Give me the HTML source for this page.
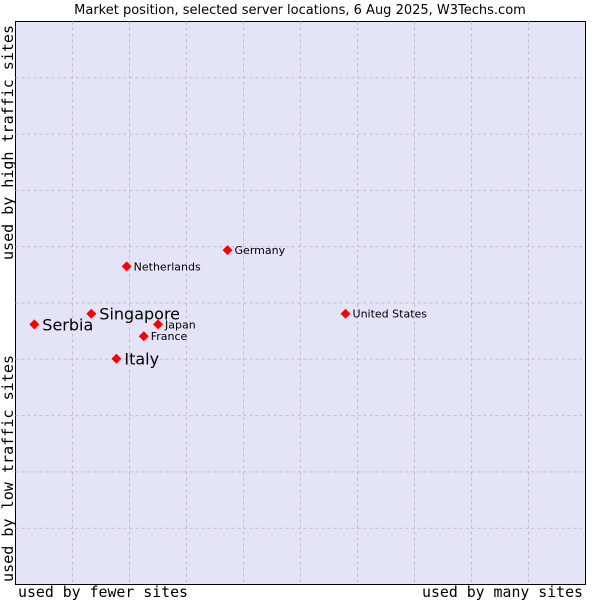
<!DOCTYPE html>
<html><head><meta charset="utf-8"><style>
body{margin:0;background:#fff;width:600px;height:600px;overflow:hidden}
svg text{font-family:"DejaVu Sans","Liberation Sans",sans-serif}
.mono{font-family:"DejaVu Sans Mono","Liberation Mono",monospace}
</style></head><body>
<svg id="chart" width="600" height="600" xmlns="http://www.w3.org/2000/svg">
<text x="300" y="14" text-anchor="middle" font-size="13" fill="#000">Market position, selected server locations, 6 Aug 2025, W3Techs.com</text>
<rect x="15.5" y="21.5" width="570" height="563" fill="#e4e4f8" stroke="#000" stroke-width="1"/>
<g id="grid"></g>
<g id="points"></g>
<text class="mono" transform="translate(13,260) rotate(-90)" font-size="15" fill="#000" textLength="235" lengthAdjust="spacingAndGlyphs">used by high traffic sites</text>
<text class="mono" transform="translate(13,582) rotate(-90)" font-size="15" fill="#000" textLength="227" lengthAdjust="spacingAndGlyphs">used by low traffic sites</text>
<text class="mono" x="18" y="597" font-size="15" fill="#000" textLength="170" lengthAdjust="spacingAndGlyphs">used by fewer sites</text>
<text class="mono" x="583" y="597" text-anchor="end" font-size="15" fill="#000" textLength="161" lengthAdjust="spacingAndGlyphs">used by many sites</text>
</svg>
<script>
const countries=["Serbia","Singapore","Italy","Netherlands","Japan","France","Germany","United States"];
const xValues=[3.3,13.3,17.7,19.5,25.0,22.5,37.2,57.9];
const yValues=[46.2,48.1,40.1,56.5,46.2,44.1,59.4,48.1];
const highlighted=[true,true,true,false,false,false,false,false];
const L=15.5,T=21.5,W=570,H=563;
const sx=v=>L+v/100*W, sy=v=>T+H-v/100*H;
const NS="http://www.w3.org/2000/svg";
const grid=document.getElementById('grid');
for(let i=1;i<10;i++){
  const v=document.createElementNS(NS,'line');
  
  
  v.setAttribute('x1',sx(i*10));v.setAttribute('x2',sx(i*10));v.setAttribute('y1',T);v.setAttribute('y2',T+H);
  v.setAttribute('stroke','#c0c0c0');v.setAttribute('stroke-dasharray','3,3');
  grid.appendChild(v);
  const h=document.createElementNS(NS,'line');
  
  
  h.setAttribute('y1',sy(i*10));h.setAttribute('y2',sy(i*10));h.setAttribute('x1',L);h.setAttribute('x2',L+W);
  h.setAttribute('stroke','#c0c0c0');h.setAttribute('stroke-dasharray','3,3');
  grid.appendChild(h);
}
const pts=document.getElementById('points');
countries.forEach((c,i)=>{
  const x=sx(xValues[i]),y=sy(yValues[i]);
  const d=document.createElementNS(NS,'path');
  
  
  d.setAttribute('d',`M${x} ${y-5}L${x+5} ${y}L${x} ${y+5}L${x-5} ${y}Z`);
  d.setAttribute('fill','#f00');
  pts.appendChild(d);
  const t=document.createElementNS(NS,'text');
  
  
  const big=highlighted[i];
  t.setAttribute('x',x+(big?8:7));
  t.setAttribute('y',y+(big?6:4));
  t.setAttribute('font-size',big?16:11);
  t.setAttribute('fill','#000');
  t.textContent=c;
  pts.appendChild(t);
});
</script>
</body></html>
